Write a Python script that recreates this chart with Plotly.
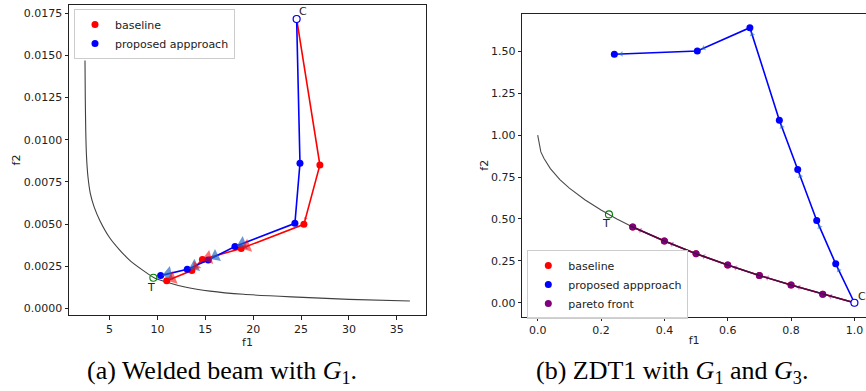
import math
import plotly.graph_objects as go

# ---------------- (a) Welded beam with G1 ----------------
wb_front_f1 = [2.44, 2.47, 2.52, 2.60, 2.75, 3.0, 3.4, 4.0, 5.0, 6.0, 7.2, 8.5, 9.6,
               11.0, 13.0, 15.5, 19.0, 24.0, 30.0, 36.37]
wb_front_f2 = [0.0147, 0.0125, 0.0105, 0.0090, 0.0078, 0.0068, 0.0060, 0.0052, 0.0042,
               0.0035, 0.0028, 0.00225, 0.00183, 0.00155, 0.00125, 0.00102, 0.00083,
               0.00068, 0.00053, 0.00043]

wb_base_f1 = [24.54, 26.97, 25.30, 18.75, 14.70, 13.60, 10.97]
wb_base_f2 = [0.01716, 0.0085, 0.00498, 0.00355, 0.00290, 0.00224, 0.00163]

wb_prop_f1 = [24.54, 24.89, 24.36, 18.10, 15.31, 13.12, 10.34]
wb_prop_f2 = [0.01716, 0.0086, 0.00504, 0.00366, 0.00287, 0.00231, 0.00194]

wb_C = [24.54, 0.01716]
wb_T = [9.58, 0.00181]

# ---------------- (b) ZDT1 with G1 and G3 ----------------
zdt_front_f1 = [0.0, 0.01, 0.02, 0.04, 0.07, 0.10, 0.15, 0.20, 0.25, 0.30, 0.40,
                0.50, 0.60, 0.70, 0.80, 0.90, 1.0]
zdt_front_f2 = [1.0, 0.90, 0.86, 0.80, 0.735, 0.684, 0.613, 0.553, 0.50, 0.452, 0.368,
                0.293, 0.225, 0.163, 0.106, 0.051, 0.0]

zdt_pareto_f1 = [1.0, 0.9, 0.8, 0.7, 0.6, 0.5, 0.4, 0.3]
zdt_pareto_f2 = [0.0, 0.051, 0.106, 0.163, 0.225, 0.293, 0.368, 0.452]

zdt_base_f1 = [1.0, 0.9, 0.8, 0.7, 0.6, 0.5, 0.4, 0.3]
zdt_base_f2 = [0.0, 0.051, 0.106, 0.163, 0.225, 0.293, 0.368, 0.452]

zdt_prop_f1 = [1.0, 0.941, 0.881, 0.821, 0.763, 0.670, 0.504, 0.242]
zdt_prop_f2 = [0.0, 0.232, 0.491, 0.795, 1.089, 1.641, 1.502, 1.482]

zdt_C = [1.0, 0.0]
zdt_T = [0.225, 0.527]

# ---------------- layout geometry ----------------
W, H = 866, 391
FONT = "DejaVu Sans"
FS = 11

X1_DOM = [69 / W, 426 / W]
Y1_DOM = [(H - 315) / H, (H - 5) / H]
X1_RNG = [0.77, 38.05]
Y1_RNG = [-0.000397, 0.01799]

X2_DOM = [522.3 / W, 1.0]
Y2_DOM = [(H - 316.5) / H, (H - 14) / H]
X2_RNG = [-0.0486, 1.0366]
Y2_RNG = [-0.082, 1.7225]


def px_scale(dom, rng, total):
    return (dom[1] - dom[0]) * total / (rng[1] - rng[0])


S1 = (px_scale(X1_DOM, X1_RNG, W), px_scale(Y1_DOM, Y1_RNG, H))
S2 = (px_scale(X2_DOM, X2_RNG, W), px_scale(Y2_DOM, Y2_RNG, H))

fig = go.Figure()


def add_arrows(xs, ys, color, size, back_px, scale, xa, ya, horiz_scaled=False):
    sx, sy = scale
    for i in range(1, len(xs)):
        x0, y0, x1, y1 = xs[i - 1], ys[i - 1], xs[i], ys[i]
        dxp, dyp = (x1 - x0) * sx, (y1 - y0) * sy
        L = math.hypot(dxp, dyp)
        if L == 0:
            continue
        ux, uy = dxp / L, dyp / L
        s = size * abs(ux) if horiz_scaled else size
        if s < 2.5:
            continue
        cx = x1 - ux * back_px / sx
        cy = y1 - uy * back_px / sy
        fig.add_trace(go.Scatter(
            x=[x0, cx], y=[y0, cy], mode="markers", xaxis=xa, yaxis=ya,
            marker=dict(symbol="triangle-up", size=[0, s], angleref="previous",
                        color=color, line=dict(width=0)),
            showlegend=False, hoverinfo="skip"))


# ----- left panel -----
fig.add_trace(go.Scatter(x=wb_front_f1, y=wb_front_f2, mode="lines",
                         line=dict(color="rgba(30,30,30,0.85)", width=1.1, shape="spline",
                                   smoothing=0.6),
                         xaxis="x", yaxis="y", showlegend=False, hoverinfo="skip"))
fig.add_trace(go.Scatter(x=wb_base_f1, y=wb_base_f2, mode="lines+markers",
                         line=dict(color="red", width=1.6),
                         marker=dict(color="red", size=7),
                         xaxis="x", yaxis="y", showlegend=False))
fig.add_trace(go.Scatter(x=wb_prop_f1, y=wb_prop_f2, mode="lines+markers",
                         line=dict(color="blue", width=1.6),
                         marker=dict(color="blue", size=7),
                         xaxis="x", yaxis="y", showlegend=False))
add_arrows(wb_prop_f1, wb_prop_f2, "rgba(31,100,190,0.95)", 13, 8.0, S1, "x", "y",
           horiz_scaled=True)
add_arrows(wb_base_f1, wb_base_f2, "rgba(255,0,0,0.8)", 13, 6.0, S1, "x", "y",
           horiz_scaled=True)
fig.add_trace(go.Scatter(x=[wb_C[0]], y=[wb_C[1]], mode="markers",
                         marker=dict(color="white", size=7, line=dict(color="blue", width=1.2)),
                         xaxis="x", yaxis="y", showlegend=False))
fig.add_trace(go.Scatter(x=[wb_T[0]], y=[wb_T[1]], mode="markers",
                         marker=dict(symbol="circle-open", color="green", size=7,
                                     line=dict(color="green", width=1.1)),
                         xaxis="x", yaxis="y", showlegend=False))
fig.add_trace(go.Scatter(x=[None], y=[None], mode="markers", name="baseline",
                         marker=dict(color="red", size=7), xaxis="x", yaxis="y", legend="legend"))
fig.add_trace(go.Scatter(x=[None], y=[None], mode="markers", name="proposed appproach",
                         marker=dict(color="blue", size=7), xaxis="x", yaxis="y", legend="legend"))

# ----- right panel -----
fig.add_trace(go.Scatter(x=zdt_base_f1, y=zdt_base_f2, mode="lines+markers",
                         line=dict(color="red", width=1.6), marker=dict(color="red", size=7),
                         xaxis="x2", yaxis="y2", showlegend=False))
fig.add_trace(go.Scatter(x=zdt_pareto_f1, y=zdt_pareto_f2, mode="lines",
                         line=dict(color="purple", width=1.6),
                         xaxis="x2", yaxis="y2", showlegend=False))
fig.add_trace(go.Scatter(x=zdt_pareto_f1[1:], y=zdt_pareto_f2[1:], mode="markers",
                         marker=dict(color="purple", size=7),
                         xaxis="x2", yaxis="y2", showlegend=False))
add_arrows(zdt_pareto_f1, zdt_pareto_f2, "rgba(128,0,128,0.6)", 5, 8, S2, "x2", "y2")
fig.add_trace(go.Scatter(x=zdt_front_f1, y=zdt_front_f2, mode="lines",
                         line=dict(color="rgba(30,30,30,0.8)", width=1.1),
                         xaxis="x2", yaxis="y2", showlegend=False, hoverinfo="skip"))
fig.add_trace(go.Scatter(x=zdt_prop_f1, y=zdt_prop_f2, mode="lines+markers",
                         line=dict(color="blue", width=1.6), marker=dict(color="blue", size=7),
                         xaxis="x2", yaxis="y2", showlegend=False))
add_arrows(zdt_prop_f1, zdt_prop_f2, "rgba(31,119,180,0.8)", 5, 7, S2, "x2", "y2")
fig.add_trace(go.Scatter(x=[zdt_C[0]], y=[zdt_C[1]], mode="markers",
                         marker=dict(color="white", size=7, line=dict(color="blue", width=1.2)),
                         xaxis="x2", yaxis="y2", showlegend=False))
fig.add_trace(go.Scatter(x=[zdt_T[0]], y=[zdt_T[1]], mode="markers",
                         marker=dict(symbol="circle-open", color="green", size=7,
                                     line=dict(color="green", width=1.1)),
                         xaxis="x2", yaxis="y2", showlegend=False))
fig.add_trace(go.Scatter(x=[None], y=[None], mode="markers", name="baseline",
                         marker=dict(color="red", size=7), xaxis="x2", yaxis="y2", legend="legend2"))
fig.add_trace(go.Scatter(x=[None], y=[None], mode="markers", name="proposed appproach",
                         marker=dict(color="blue", size=7), xaxis="x2", yaxis="y2", legend="legend2"))
fig.add_trace(go.Scatter(x=[None], y=[None], mode="markers", name="pareto front",
                         marker=dict(color="purple", size=7), xaxis="x2", yaxis="y2", legend="legend2"))

axis_common = dict(showgrid=False, zeroline=False, showline=True, linecolor="#222",
                   linewidth=1, ticks="outside", ticklen=3.5, tickwidth=0.9, tickcolor="#222",
                   tickfont=dict(family=FONT, size=FS, color="#222"),
                   title_font=dict(family=FONT, size=FS, color="#222"))

legend_common = dict(xanchor="left", yanchor="top", bgcolor="rgba(255,255,255,0.8)",
                     bordercolor="#cccccc", borderwidth=1,
                     font=dict(family=FONT, size=FS, color="#222"))

fig.update_layout(
    width=W, height=H, autosize=False,
    margin=dict(l=0, r=0, t=0, b=0),
    paper_bgcolor="white", plot_bgcolor="white",
    font=dict(family=FONT, size=FS, color="#222"),
    xaxis=dict(axis_common, domain=X1_DOM, range=X1_RNG,
               tick0=5, dtick=5, mirror=True, anchor="y",
               title=dict(text="f1", standoff=0)),
    yaxis=dict(axis_common, domain=Y1_DOM, range=Y1_RNG, tick0=0, dtick=0.0025,
               tickformat=".4f", mirror=True, anchor="x", title=dict(text="f2", standoff=0)),
    xaxis2=dict(axis_common, domain=X2_DOM, range=X2_RNG,
                tick0=0, dtick=0.2, tickformat=".1f", mirror=True, anchor="y2",
                title=dict(text="f1", standoff=0)),
    yaxis2=dict(axis_common, domain=Y2_DOM, range=Y2_RNG, tick0=0, dtick=0.25,
                tickformat=".2f", mirror=False, anchor="x2", title=dict(text="f2", standoff=0)),
    legend=dict(legend_common, x=74 / W, y=(H - 9) / H),
    legend2=dict(legend_common, x=527.3 / W, y=(H - 250) / H),
)

ann_font = dict(family=FONT, size=FS, color="#222")
cap_font = dict(family="Liberation Serif", size=26, color="black")
fig.add_annotation(x=wb_C[0], y=wb_C[1], xref="x", yref="y", text="C", showarrow=False,
                   xshift=6, yshift=7, font=ann_font)
fig.add_annotation(x=wb_T[0], y=wb_T[1], xref="x", yref="y", text="T", showarrow=False,
                   xshift=-2, yshift=-10, font=ann_font)
fig.add_annotation(x=zdt_C[0], y=zdt_C[1], xref="x2", yref="y2", text="C", showarrow=False,
                   xshift=8, yshift=6, font=ann_font)
fig.add_annotation(x=zdt_T[0], y=zdt_T[1], xref="x2", yref="y2", text="T", showarrow=False,
                   xshift=-3, yshift=-9, font=ann_font)
fig.add_annotation(x=222 / W, y=(H - 371.7) / H, xref="paper", yref="paper",
                   text="(a) Welded beam with <i>G</i><sub>1</sub>.", showarrow=False,
                   xanchor="center", yanchor="middle", font=cap_font)
fig.add_annotation(x=672 / W, y=(H - 371.7) / H, xref="paper", yref="paper",
                   text="(b) ZDT1 with <i>G</i><sub>1</sub> and <i>G</i><sub>3</sub>.",
                   showarrow=False, xanchor="center", yanchor="middle", font=cap_font)

fig.write_html("out.html", config={"displayModeBar": False},
               post_script="document.body.style.margin='0';document.body.style.overflow='hidden';")
